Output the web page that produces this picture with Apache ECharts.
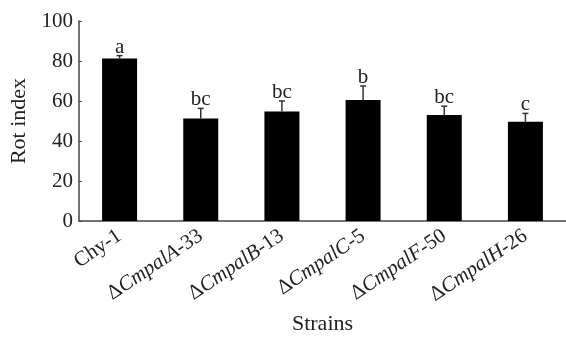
<!DOCTYPE html>
<html>
<head>
<meta charset="utf-8">
<script src="https://cdn.jsdelivr.net/npm/echarts@6/dist/echarts.min.js"></script>
<style>
html,body{margin:0;padding:0;background:#fff;}
#chart{width:566px;height:340px;}
</style>
</head>
<body>
<div id="chart"></div>
<script>
// 菌株
var strains = ['Chy-1', 'ΔCmpalA-33', 'ΔCmpalB-13', 'ΔCmpalC-5', 'ΔCmpalF-50', 'ΔCmpalH-26'];
// 腐烂指数
var rotIndex = [81.2, 51.3, 54.8, 60.5, 53.0, 49.6];
var errs = [1.5, 5.0, 5.2, 7.0, 4.4, 4.2];
var letters = ['a', 'bc', 'bc', 'b', 'bc', 'c'];
var yTicks = [0, 20, 40, 60, 80, 100];

var font = '"Liberation Serif", "Times New Roman", serif';

var errData = rotIndex.map(function(v, i){ return [i, v, v + errs[i]]; });

option = {
	animation: false,
	grid: { left: 79, right: 0, top: 21, bottom: 116 },
	xAxis: {
		type: 'category',
		data: strains,
		name: 'Strains',
		nameLocation: 'middle',
		nameGap: 92,
		nameTextStyle: { fontFamily: font, fontSize: 22, color: '#222' },
		axisLine: { lineStyle: { color: '#444', width: 1.5 } },
		axisTick: { inside: true, length: 3, lineStyle: { color: '#444' } },
		axisLabel: {
			rotate: 34,
			margin: 13,
			fontFamily: font,
			fontStyle: 'normal',
			fontSize: 21,
			color: '#222',
			formatter: function(v){
				var m = v.match(/^Δ(Cmpal[A-Z])(.*)$/);
				if(!m) return '{n|' + v + '}';
				return '{n|Δ}{i|' + m[1] + '}{n|' + m[2] + '}';
			},
			rich: {
				n: { fontStyle: 'normal', fontFamily: font, fontSize: 21, color: '#222' },
				i: { fontStyle: 'italic', fontFamily: font, fontSize: 21, color: '#222' }
			}
		}
	},
	yAxis: {
		type: 'value',
		min: 0, max: 100, interval: 20,
		name: 'Rot index',
		nameLocation: 'middle',
		nameGap: 38,
		nameTextStyle: { fontFamily: font, fontSize: 22, color: '#222' },
		axisLine: { show: true, lineStyle: { color: '#444', width: 1.5 } },
		axisTick: { show: true, inside: true, length: 3, lineStyle: { color: '#444' } },
		splitLine: { show: false },
		axisLabel: {
			fontFamily: font, fontSize: 21, color: '#222', margin: 6,
			formatter: function(v){ return yTicks.indexOf(v) >= 0 ? v : ''; }
		}
	},
	series: [
		{
			type: 'bar',
			data: rotIndex,
			barWidth: 35,
			itemStyle: { color: '#000' }
		},
		{
			type: 'custom',
			data: errData,
			z: 3,
			renderItem: function(params, api){
				var lo = api.coord([api.value(0), api.value(1)]);
				var hi = api.coord([api.value(0), api.value(2)]);
				var st = { stroke: '#333', lineWidth: 1.5 };
				return {
					type: 'group',
					children: [
						{ type: 'line', shape: { x1: lo[0], y1: lo[1], x2: hi[0], y2: hi[1] }, style: st },
						{ type: 'line', shape: { x1: hi[0] - 3, y1: hi[1], x2: hi[0] + 3, y2: hi[1] }, style: st },
						{ type: 'text', style: {
							text: letters[params.dataIndex],
							x: hi[0], y: hi[1] + 2,
							align: 'center', verticalAlign: 'bottom',
							font: '21px ' + font, fill: '#222'
						} }
					]
				};
			}
		}
	]
};
var chart = echarts.init(document.getElementById('chart'));
chart.setOption(option);
</script>
</body>
</html>
